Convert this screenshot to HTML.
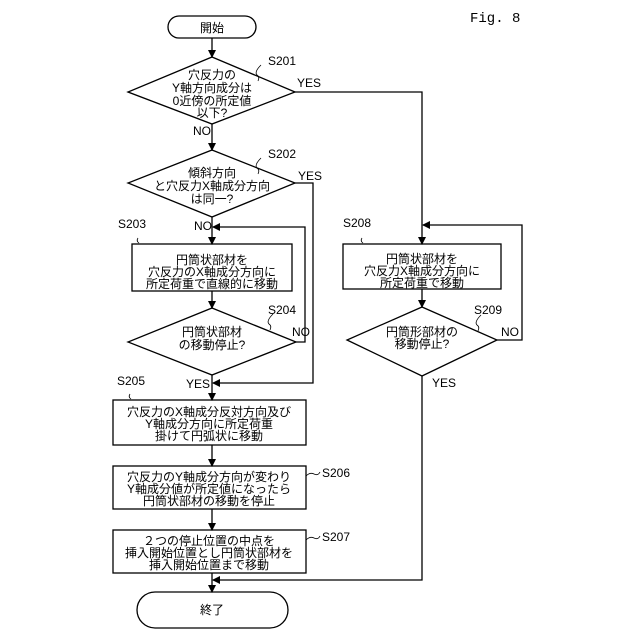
<!DOCTYPE html>
<html><head><meta charset="utf-8"><style>
html,body{margin:0;padding:0;background:#fff;}
svg{display:block}
text{font-family:"Liberation Sans","Noto Sans CJK JP",sans-serif;font-size:12px;fill:#000;}
.c{text-anchor:middle}
</style></head><body>
<svg width="640" height="640" viewBox="0 0 640 640" xmlns="http://www.w3.org/2000/svg">
<defs><marker id="a" markerWidth="8" markerHeight="8" refX="7" refY="4" orient="auto" markerUnits="userSpaceOnUse"><path d="M0,0 L8,4 L0,8 z" fill="#000"/></marker></defs>
<g fill="none" stroke="#000" stroke-width="1.3">
<rect x="168" y="16" width="88" height="22" rx="11"/>
<polygon points="212,57 295,92 212,124 128,92"/>
<polygon points="212,150 295,183 212,217 128,183"/>
<rect x="132" y="244" width="160" height="47"/>
<polygon points="212,308 296,342 212,375 128,342"/>
<rect x="113" y="400" width="193" height="45"/>
<rect x="113" y="466" width="193" height="43"/>
<rect x="113" y="530" width="193" height="43"/>
<rect x="137" y="592" width="151" height="36" rx="18"/>
<rect x="343" y="244" width="158" height="45"/>
<polygon points="422,307 497,340 422,376 347,340"/>
<line x1="212" y1="38" x2="212" y2="57" marker-end="url(#a)"/>
<line x1="212" y1="124" x2="212" y2="150" marker-end="url(#a)"/>
<line x1="212" y1="217" x2="212" y2="244" marker-end="url(#a)"/>
<line x1="212" y1="291" x2="212" y2="308" marker-end="url(#a)"/>
<line x1="212" y1="375" x2="212" y2="400" marker-end="url(#a)"/>
<line x1="212" y1="445" x2="212" y2="466" marker-end="url(#a)"/>
<line x1="212" y1="509" x2="212" y2="530" marker-end="url(#a)"/>
<line x1="212" y1="573" x2="212" y2="592" marker-end="url(#a)"/>
<polyline points="295,92 422,92 422,244" marker-end="url(#a)"/>
<polyline points="295,183 313,183 313,383 213,383" marker-end="url(#a)"/>
<polyline points="296,342 305,342 305,227 213,227" marker-end="url(#a)"/>
<line x1="422" y1="289" x2="422" y2="307" marker-end="url(#a)"/>
<polyline points="497,340 522,340 522,225 423,225" marker-end="url(#a)"/>
<polyline points="422,376 422,580 213,580" marker-end="url(#a)"/>
<path d="M258,81 q2,-4 -1,-6 q-3,-3 4,-10" stroke-width="0.8"/>
<path d="M258,174 q2,-4 -1,-6 q-3,-3 4,-10" stroke-width="0.8"/>
<path d="M270,330 q2,-4 -1,-6 q-3,-3 4,-10" stroke-width="0.8"/>
<path d="M478,331 q2,-4 -1,-6 q-3,-3 4,-10" stroke-width="0.8"/>
<path d="M138,238 q-2,3 1,5" stroke-width="0.8"/>
<path d="M362,238 q-2,3 1,5" stroke-width="0.8"/>
<path d="M130,394 q-2,3 1,5" stroke-width="0.8"/>
<path d="M306,476 q4,-4 8,-2 q4,2 6,-2" stroke-width="0.8"/>
<path d="M306,540 q4,-4 8,-2 q4,2 6,-2" stroke-width="0.8"/>
</g>
<text x="470" y="22" style="font-family:'Liberation Mono',monospace;font-size:14px">Fig. 8</text>
<text class="c" x="212" y="32">開始</text>
<text x="268" y="65">S201</text>
<text x="297" y="87">YES</text>
<text class="c" x="212" y="79">穴反力の</text>
<text class="c" x="212" y="92">Y軸方向成分は</text>
<text class="c" x="212" y="105">0近傍の所定値</text>
<text class="c" x="212" y="117">以下?</text>
<text x="193" y="135">NO</text>
<text x="268" y="158">S202</text>
<text x="298" y="180">YES</text>
<text class="c" x="212" y="177">傾斜方向</text>
<text class="c" x="212" y="190">と穴反力X軸成分方向</text>
<text class="c" x="212" y="203">は同一?</text>
<text x="194" y="230">NO</text>
<text x="118" y="228">S203</text>
<text class="c" x="212" y="264">円筒状部材を</text>
<text class="c" x="212" y="276">穴反力のX軸成分方向に</text>
<text class="c" x="212" y="288">所定荷重で直線的に移動</text>
<text x="268" y="314">S204</text>
<text x="292" y="336">NO</text>
<text class="c" x="212" y="336">円筒状部材</text>
<text class="c" x="212" y="349">の移動停止?</text>
<text x="186" y="388">YES</text>
<text x="117" y="385">S205</text>
<text class="c" x="209" y="416">穴反力のX軸成分反対方向及び</text>
<text class="c" x="209" y="428">Y軸成分方向に所定荷重</text>
<text class="c" x="209" y="440">掛けて円弧状に移動</text>
<text x="322" y="477">S206</text>
<text class="c" x="209" y="481">穴反力のY軸成分方向が変わり</text>
<text class="c" x="209" y="493">Y軸成分値が所定値になったら</text>
<text class="c" x="209" y="505">円筒状部材の移動を停止</text>
<text x="322" y="541">S207</text>
<text class="c" x="209" y="545">２つの停止位置の中点を</text>
<text class="c" x="209" y="557">挿入開始位置とし円筒状部材を</text>
<text class="c" x="209" y="569">挿入開始位置まで移動</text>
<text class="c" x="212" y="614">終了</text>
<text x="343" y="227">S208</text>
<text class="c" x="422" y="263">円筒状部材を</text>
<text class="c" x="422" y="275">穴反力X軸成分方向に</text>
<text class="c" x="422" y="287">所定荷重で移動</text>
<text x="474" y="314">S209</text>
<text x="501" y="336">NO</text>
<text class="c" x="422" y="336">円筒形部材の</text>
<text class="c" x="422" y="348">移動停止?</text>
<text x="432" y="387">YES</text>
</svg>
</body></html>
